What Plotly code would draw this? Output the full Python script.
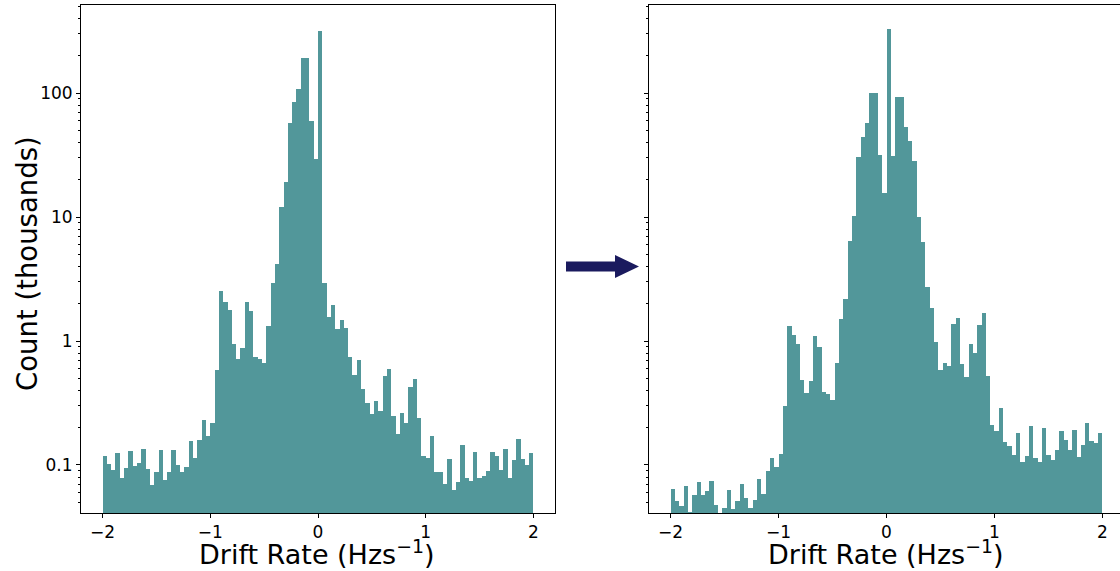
import numpy as np
import plotly.graph_objects as go

# ---------------- data (counts in thousands, 100 bins of width 0.04 from -2 to 2) ----------------
bin_start = -2.0
bin_width = 0.04

before_counts = [
    0.119, 0.102, 0.091, 0.125, 0.078, 0.094, 0.130, 0.099, 0.104, 0.135,
    0.092, 0.069, 0.088, 0.133, 0.076, 0.087, 0.132, 0.100, 0.088, 0.096,
    0.155, 0.113, 0.158, 0.229, 0.172, 0.218, 0.587, 2.53, 2.05, 1.77,
    0.951, 0.719, 0.883, 2.05, 1.75, 0.743, 0.719, 0.668, 1.32, 2.94,
    4.20, 12.1, 19.3, 57.3, 84.1, 108, 191, 191, 59.4, 29.2,
    316, 2.92, 1.55, 1.95, 1.26, 1.48, 1.28, 0.743, 0.535, 0.703,
    0.413, 0.315, 0.259, 0.330, 0.272, 0.522, 0.594, 0.248, 0.179, 0.261,
    0.219, 0.423, 0.497, 0.238, 0.118, 0.114, 0.172, 0.087, 0.088, 0.070,
    0.111, 0.063, 0.073, 0.145, 0.079, 0.074, 0.128, 0.078, 0.081, 0.089,
    0.128, 0.118, 0.091, 0.134, 0.078, 0.109, 0.162, 0.112, 0.100, 0.126,
]

after_counts = [
    0.064, 0.0513, 0.047, 0.0677, 0.042, 0.057, 0.073, 0.0576, 0.062, 0.0747,
    0.0479, 0.040, 0.045, 0.0629, 0.0442, 0.0513, 0.0699, 0.0539, 0.045, 0.0522,
    0.0776, 0.058, 0.090, 0.1145, 0.096, 0.1227, 0.301, 1.31, 1.12, 0.951,
    0.485, 0.379, 0.476, 1.10, 0.889, 0.388, 0.374, 0.336, 0.661, 1.50,
    2.18, 6.44, 10.1, 30.3, 44.4, 57.3, 100, 100, 31.6, 15.5,
    328, 31.2, 92.3, 92.3, 52.9, 41.2, 28.3, 9.95, 6.25, 2.73,
    1.84, 0.976, 0.587, 0.665, 0.625, 1.36, 1.54, 0.653, 0.515, 0.951,
    0.800, 1.34, 1.69, 0.519, 0.211, 0.188, 0.287, 0.153, 0.142, 0.121,
    0.181, 0.105, 0.118, 0.206, 0.113, 0.106, 0.198, 0.120, 0.109, 0.133,
    0.187, 0.159, 0.131, 0.191, 0.115, 0.145, 0.217, 0.156, 0.150, 0.181,
]

x_tick_vals = [-2, -1, 0, 1, 2]
x_tick_text = ["\u22122", "\u22121", "0", "1", "2"]
y_tick_vals = [0.1, 1, 10, 100]
y_tick_text = ["0.1", "1", "10", "100"]
x_title = "Drift Rate (Hzs<sup>\u22121</sup>)"
y_title = "Count (thousands)"

# ---------------- layout helpers ----------------
W, H = 1120, 571
BAR_COLOR = "#52979a"
FONT = "DejaVu Sans"


def px(x):
    return x / W


def py(y):
    return 1 - y / H


centers_before = [bin_start + bin_width * (i + 0.5) for i in range(len(before_counts))]
centers_after = [bin_start + bin_width * (i + 0.5) for i in range(len(after_counts))]

fig = go.Figure()
fig.add_trace(go.Bar(x=centers_before, y=before_counts, width=bin_width,
                     marker=dict(color=BAR_COLOR, line=dict(width=0)),
                     xaxis="x", yaxis="y", showlegend=False))
fig.add_trace(go.Bar(x=centers_after, y=after_counts, width=bin_width,
                     marker=dict(color=BAR_COLOR, line=dict(width=0)),
                     xaxis="x2", yaxis="y2", showlegend=False))

minor_vals = [m * 10.0 ** e for e in range(-2, 3) for m in range(2, 10)]
y_range = [np.log10(0.041), np.log10(513)]

yaxis_common = dict(
    type="log", range=y_range, tickmode="array", tickvals=y_tick_vals,
    ticks="outside", ticklen=4, tickwidth=1, tickcolor="black",
    showline=True, linecolor="black", linewidth=1, showgrid=False, zeroline=False,
    minor=dict(tickmode="array", tickvals=minor_vals, ticks="outside", ticklen=2,
               tickwidth=0.8, tickcolor="black", showgrid=False),
    domain=[py(513), py(5)],
    tickfont=dict(family=FONT, size=17, color="black"),
)
xaxis_common = dict(
    tickmode="array", tickvals=x_tick_vals, ticktext=x_tick_text,
    ticks="outside", ticklen=4, tickwidth=1, tickcolor="black",
    showline=True, linecolor="black", linewidth=1, mirror=True,
    showgrid=False, zeroline=False,
    tickfont=dict(family=FONT, size=17, color="black"),
)

fig.update_layout(
    width=W, height=H, margin=dict(l=0, r=0, t=0, b=0),
    paper_bgcolor="white", plot_bgcolor="white", bargap=0,
    font=dict(family=FONT, color="black"),
    xaxis=dict(xaxis_common, domain=[px(81), px(555)], range=[-2.2, 2.2], anchor="y"),
    xaxis2=dict(xaxis_common, domain=[px(649), 1.0],
                range=[-2.2, -2.2 + (W - 649) / (475 / 4.4)], anchor="y2"),
    yaxis=dict(yaxis_common, ticktext=y_tick_text, mirror=True, anchor="x"),
    yaxis2=dict(yaxis_common, showticklabels=False, anchor="x2"),
)

# axis titles
for cx in (317, 886):
    fig.add_annotation(text=x_title, x=px(cx), y=py(571), xref="paper", yref="paper",
                       showarrow=False, xanchor="center", yanchor="bottom", borderpad=0,
                       font=dict(family=FONT, size=27, color="black"))
fig.add_annotation(text=y_title, x=px(27), y=py(264), xref="paper", yref="paper",
                   showarrow=False, xanchor="center", yanchor="middle", textangle=-90,
                   borderpad=0, font=dict(family=FONT, size=27.5, color="black"))

# arrow between panels
pts = [(566, 261.5), (615, 261.5), (615, 255), (639, 266.5), (615, 278), (615, 271.5), (566, 271.5)]
path = "M " + " L ".join(f"{px(a):.5f},{py(b):.5f}" for a, b in pts) + " Z"
fig.add_shape(type="path", path=path, xref="paper", yref="paper",
              fillcolor="#1a1a5e", line=dict(width=0))

fig.write_html("out.html")
